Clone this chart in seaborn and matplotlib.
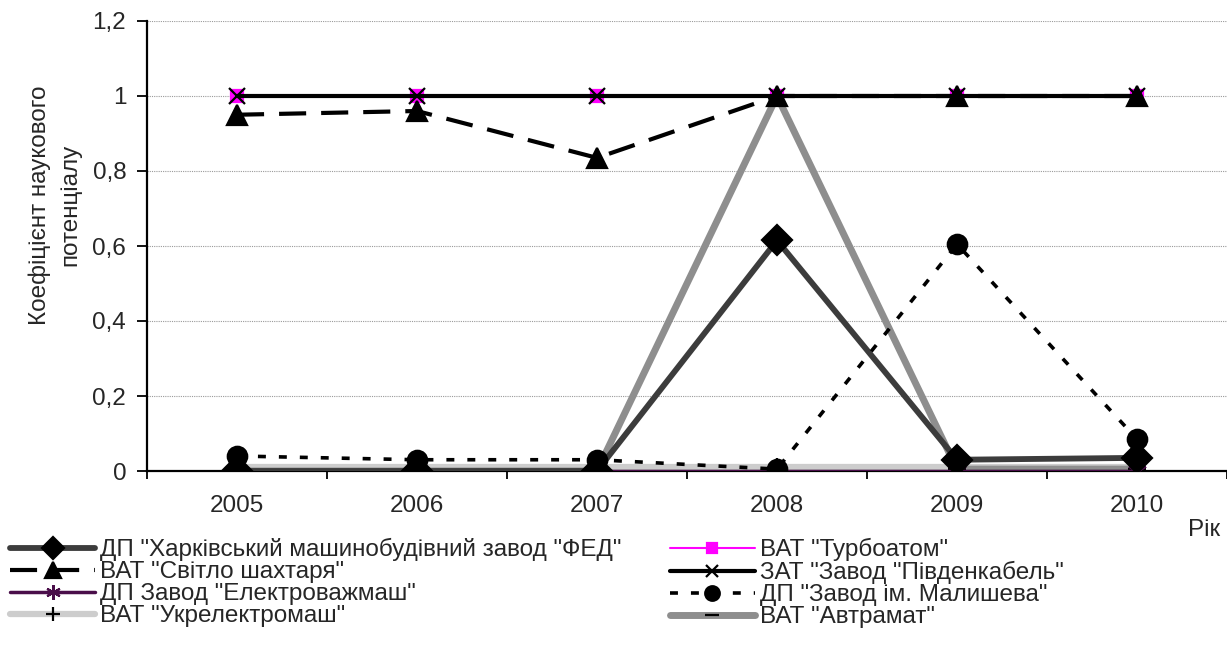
import matplotlib
matplotlib.use("Agg")
import matplotlib.pyplot as plt
import seaborn as sns
import pandas as pd

years = ["2005", "2006", "2007", "2008", "2009", "2010"]
fed = [0.0, 0.0, 0.0, 0.615, 0.03, 0.035]
svitlo = [0.95, 0.96, 0.835, 1.0, 1.0, 1.0]
elektro = [0.0, 0.0, 0.0, 0.0, 0.0, 0.0]
ukrelektro = [0.012, 0.012, 0.012, 0.012, 0.012, 0.012]
turbo = [1.0, 1.0, 1.0, 1.0, 1.0, 1.0]
pivden = [1.0, 1.0, 1.0, 1.0, 1.0, 1.0]
malyshev = [0.04, 0.03, 0.03, 0.005, 0.605, 0.085]
avtramat = [0.0, 0.0, 0.0, 1.0, 0.005, 0.005]

labels = ['ДП "Харківський машинобудівний завод "ФЕД"',
          'ВАТ "Світло шахтаря"',
          'ДП Завод "Електроважмаш"',
          'ВАТ "Укрелектромаш"',
          'ВАТ "Турбоатом"',
          'ЗАТ "Завод "Південкабель"',
          'ДП "Завод ім. Малишева"',
          'ВАТ "Автрамат"']
series = [fed, svitlo, elektro, ukrelektro, turbo, pivden, malyshev, avtramat]

styles = [
    dict(color="#3c3c3c", lw=4.2, ls="-", marker="D", ms=15, mfc="black", mec="black", z=5),
    dict(color="black", lw=3.0, ls=(0, (6.5, 3.6)), marker="^", ms=15, mfc="black", mec="black", z=4),
    dict(color="#4a0e4a", lw=2.5, ls="-", marker=(6, 2, 0), ms=14, mfc="#4a0e4a", mec="#4a0e4a", z=3),
    dict(color="#cdcdcd", lw=4.5, ls="-", marker="+", ms=13, mfc="black", mec="black", z=2),
    dict(color="magenta", lw=1.5, ls="-", marker="s", ms=9, mfc="magenta", mec="magenta", z=3),
    dict(color="black", lw=3.0, ls="-", marker="x", ms=12, mfc="black", mec="black", z=4),
    dict(color="black", lw=2.6, ls=(0, (2.2, 3.6)), marker="o", ms=14, mfc="black", mec="black", z=6),
    dict(color="#8e8e8e", lw=5.0, ls="-", marker="_", ms=13, mfc="black", mec="black", z=2),
]

sns.set_theme(style="white")
plt.rcParams['font.family'] = ['Liberation Sans', 'DejaVu Sans']
FS = 17.5
LFS = 17.5

fig = plt.figure(figsize=(12.27, 6.45), dpi=100)
ax = fig.add_axes([147 / 1227, (645 - 471) / 645, 1 - 147 / 1227, 450 / 645])

xpos = list(range(len(years)))
handles = []
for lab, vals, st in zip(labels, series, styles):
    df = pd.DataFrame({"x": xpos, "y": vals})
    sns.lineplot(data=df, x="x", y="y", ax=ax, color=st["color"], linewidth=st["lw"],
                 linestyle=st["ls"], marker=st["marker"], markersize=st["ms"],
                 markerfacecolor=st["mfc"], markeredgecolor=st["mec"], markeredgewidth=1.6,
                 zorder=st["z"], legend=False, errorbar=None)
    handles.append(ax.get_lines()[-1])
    handles[-1].set_label(lab)

ax.set_xlim(-0.5, 5.475)
ax.set_ylim(0, 1.2)
ax.set_yticks([0, 0.2, 0.4, 0.6, 0.8, 1.0, 1.2])
ax.set_yticklabels(["0", "0,2", "0,4", "0,6", "0,8", "1", "1,2"])
ax.set_xticks(xpos)
ax.set_xticklabels(years)
ax.set_xticks([i + 0.5 for i in range(-1, 6)], minor=True)
ax.tick_params(axis="x", which="major", length=0, pad=17, labelsize=FS)
ax.tick_params(axis="x", which="minor", length=6, width=1.3, color="black", direction="out", bottom=True)
ax.tick_params(axis="y", length=7, width=1.3, color="black", direction="out", left=True, labelsize=FS, pad=8)
ax.set_xlabel("")
ax.set_ylabel("")
for s in ["top", "right"]:
    ax.spines[s].set_visible(False)
for s in ["left", "bottom"]:
    ax.spines[s].set_color("black")
    ax.spines[s].set_linewidth(1.6)
ax.yaxis.grid(True, color="#9a9a9a", linestyle=(0, (1, 1)), linewidth=0.8)
ax.set_axisbelow(True)

fig.text(55 / 1227, 1 - 205 / 645, "Коефіцієнт наукового\nпотенціалу", rotation=90,
         ha="center", va="center", multialignment="center", fontsize=FS, linespacing=1.5)
fig.text(1188 / 1227, 1 - 530 / 645, "Рік", ha="left", va="center", fontsize=FS)

leg = fig.legend(handles, labels, ncol=2,
                 loc="upper left", bbox_to_anchor=(10 / 1227, 1 - 538 / 645), frameon=False,
                 fontsize=LFS, handlelength=3.5, handletextpad=0.2, labelspacing=0.0,
                 columnspacing=2.0, borderaxespad=0, borderpad=0, markerscale=0.75)

fig.savefig("out.png", dpi=100)
